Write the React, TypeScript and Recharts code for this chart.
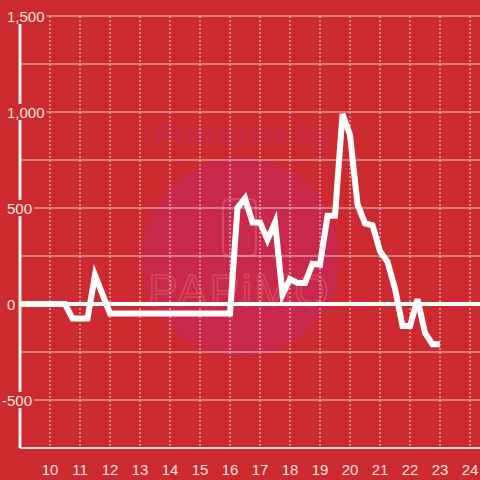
import React from 'react';
import { LineChart, Line, XAxis, YAxis, CartesianGrid, ReferenceLine } from 'recharts';

const hours = [9, 9.25, 9.5, 9.75, 10, 10.25, 10.5, 10.75, 11, 11.25, 11.5, 11.75, 12, 12.25, 12.5, 12.75, 13, 13.25, 13.5, 13.75, 14, 14.25, 14.5, 14.75, 15, 15.25, 15.5, 15.75, 16, 16.25, 16.5, 16.75, 17, 17.25, 17.5, 17.75, 18, 18.25, 18.5, 18.75, 19, 19.25, 19.5, 19.75, 20, 20.25, 20.5, 20.75, 21, 21.25, 21.5, 21.75, 22, 22.25, 22.5, 22.75, 23];
const values = [0, 0, 0, 0, 0, 0, 0, -75, -75, -75, 150, 50, -50, -50, -50, -50, -50, -50, -50, -50, -50, -50, -50, -50, -50, -50, -50, -50, -50, 500, 550, 425, 425, 335, 425, 50, 130, 110, 110, 210, 205, 460, 460, 990, 880, 520, 420, 410, 275, 220, 80, -115, -115, 25, -150, -210, -210];
const xTicks = [10, 11, 12, 13, 14, 15, 16, 17, 18, 19, 20, 21, 22, 23, 24];
const yTicks = [-500, 0, 500, 1000, 1500];
const yGrid = [-750, -500, -250, 0, 250, 500, 750, 1000, 1250, 1500];

const data = hours.map((h, i) => ({ h, v: values[i] }));

const BG = '#CC2A2F';
const TXT = '#F3E3E3';
const FONT = '"Liberation Sans", Arial, sans-serif';

const fmt = (v: number) => {
  const s = Math.abs(v).toLocaleString('en-US');
  return v < 0 ? '-' + s : s;
};
const textW = (s: string) => {
  let w = 0;
  for (const c of s) w += c === ',' ? 4.2 : c === '-' ? 5 : 8.34;
  return w;
};

const YTick = (props: any) => {
  const { y, payload } = props;
  const label = fmt(payload.value);
  const start = payload.value < 0 ? 2 : 7;
  const w = textW(label);
  return (
    <g>
      <rect x={start - 2} y={y - 8} width={w + 4} height={16} fill={BG} />
      <text x={start} y={y} dominantBaseline="central" textAnchor="start" fill={TXT} fontSize={15} fontFamily={FONT}>
        {label}
      </text>
    </g>
  );
};

const XTick = (props: any) => {
  const { x, y, payload } = props;
  return (
    <text x={x} y={y + 13} dominantBaseline="central" textAnchor="middle" fill={TXT} fontSize={15} fontFamily={FONT}>
      {payload.value}
    </text>
  );
};

export default function App() {
  return (
    <div style={{ position: 'absolute', left: 0, top: 0, width: 480, height: 480, background: BG, overflow: 'hidden' }}>
      <svg width={480} height={480} style={{ position: 'absolute', left: 0, top: 0 }}>
        <circle cx={241} cy={257} r={99} fill="#C8294A" />
        <text x={243} y={145} textAnchor="middle" fontSize={32} fontWeight="bold" fontStyle="italic" fontFamily={FONT} fill="#C72945">
          Powered by
        </text>
        <rect x={223} y={199} width={33} height={57} rx={6} fill="none" stroke="#D44A5C" strokeWidth={2} />
        <text x={240} y={306} textAnchor="middle" fontSize={44} fontFamily={FONT} fill="none" stroke="#D44A5C" strokeWidth={1.5} letterSpacing={3}>
          PAPiMO
        </text>
      </svg>
      <div style={{ position: 'absolute', left: 0, top: 0 }}>
        <LineChart width={480} height={480} data={data} margin={{ top: 16, right: 0, bottom: 0, left: 19 }}>
          <CartesianGrid horizontal={true} vertical={false} stroke="#D0D0D0" strokeWidth={1} horizontalValues={yGrid} />
          <CartesianGrid horizontal={false} vertical={true} stroke="#E0E0E0" strokeWidth={1} strokeDasharray="2 2" verticalValues={xTicks} />
          <XAxis
            dataKey="h"
            type="number"
            domain={[9, 24.3333]}
            ticks={xTicks}
            allowDataOverflow
            height={32}
            tickLine={false}
            axisLine={{ stroke: '#DDDDDD', strokeWidth: 2 }}
            tick={<XTick />}
            interval={0}
          />
          <YAxis
            type="number"
            domain={[-750, 1500]}
            ticks={yTicks}
            allowDataOverflow
            width={1}
            tickLine={false}
            axisLine={{ stroke: '#EEEEEE', strokeWidth: 3 }}
            tick={<YTick />}
            interval={0}
          />
          <ReferenceLine y={0} stroke="#FFFFFF" strokeWidth={4} />
          <Line type="linear" dataKey="v" stroke="#FFFFFF" strokeWidth={6} dot={false} activeDot={false} isAnimationActive={false} />
        </LineChart>
      </div>
    </div>
  );
}
